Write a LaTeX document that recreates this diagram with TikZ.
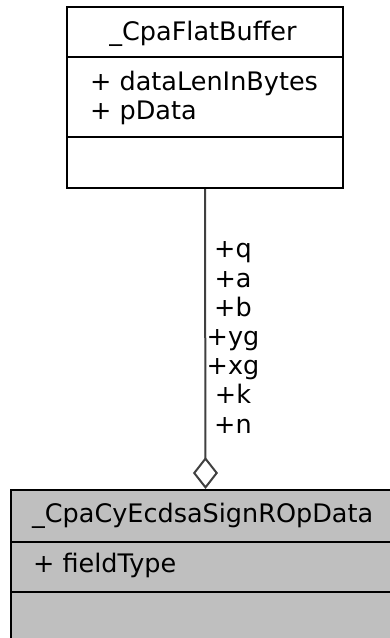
\documentclass[tikz,border=0pt]{standalone}
\usepackage{fontspec}
\setmainfont{DejaVu Sans}
\usetikzlibrary{arrows.meta}
\definecolor{edgegray}{HTML}{404040}
\definecolor{classfill}{HTML}{BFBFBF}
\begin{document}
\begin{tikzpicture}[x=1pt,y=-1pt,
  classbox/.style={draw=black,line width=2pt,rectangle,inner sep=0pt},
  member/.style={anchor=base west,inner sep=0pt,font=\fontsize{25.5}{29.2}\selectfont},
  title/.style={anchor=base,inner sep=0pt,font=\fontsize{25.5}{29.2}\selectfont},
  roles/.style={anchor=base,inner sep=0pt,align=center,font=\fontsize{25.5}{29.2}\selectfont},
  aggregation/.style={draw=edgegray,line width=2pt,
    -{Diamond[open,fill=white,length=32pt,width=25pt,line width=2pt]}}]
\useasboundingbox (0,0) rectangle (390,638);
\clip (0,0) rectangle (390,638);
\fill[white] (0,0) rectangle (390,638);

% referenced structure
\node[classbox,fill=white,minimum width=276pt,minimum height=181pt] (buf) at (205,97.5) {};
\draw[line width=2pt] (67,57) -- (343,57);
\draw[line width=2pt] (67,137) -- (343,137);
\node[title] (bufname) at (203,40) {\_CpaFlatBuffer};
\node[member] (bufm1) at (90,90) {+ dataLenInBytes};
\node[member] (bufm2) at (90,119) {+ pData};

% operation data structure
\node[classbox,fill=classfill,minimum width=390pt,minimum height=170pt] (op) at (205.5,575) {};
\draw[line width=2pt] (10.5,541.5) -- (400,541.5);
\draw[line width=2pt] (10.5,591.5) -- (400,591.5);
\node[member] (opname) at (32,522) {\_CpaCyEcdsaSignROpData};
\node[member] (opm1) at (33,572) {+ fieldType};

% aggregation with role names (base anchor sits on the last line)
\draw[aggregation] (buf.south) -- (op.north);
\node[roles] (rolelist) at (233,433) {+q\\+a\\+b\\+yg\\+xg\\+k\\+n};
\end{tikzpicture}
\end{document}
